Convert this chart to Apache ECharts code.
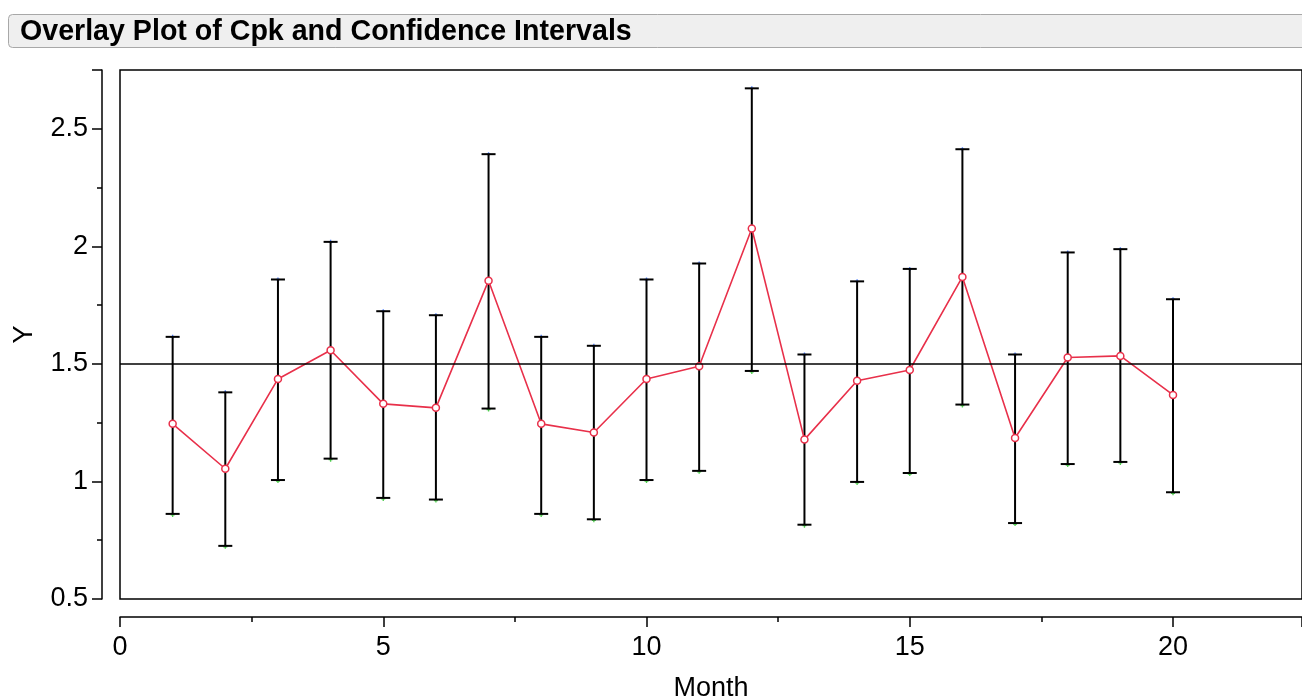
<!DOCTYPE html>
<html>
<head>
<meta charset="utf-8">
<script src="https://cdn.jsdelivr.net/npm/echarts@6/dist/echarts.min.js"></script>
<style>
html,body{margin:0;padding:0;background:#fff;overflow:hidden;}
#chart{width:1302px;height:699px;}
</style>
</head>
<body>
<div id="chart"></div>
<script>
var months = [1,2,3,4,5,6,7,8,9,10,11,12,13,14,15,16,17,18,19,20];
var cpk    = [1.245,1.054,1.436,1.558,1.330,1.313,1.854,1.245,1.208,1.436,1.490,2.076,1.178,1.428,1.474,1.870,1.185,1.527,1.534,1.368];
var upper  = [1.615,1.379,1.859,2.019,1.724,1.707,2.392,1.615,1.577,1.859,1.927,2.672,1.540,1.851,1.904,2.413,1.540,1.974,1.988,1.775];
var lower  = [0.862,0.726,1.006,1.097,0.930,0.923,1.310,0.862,0.839,1.006,1.045,1.470,0.816,0.998,1.036,1.327,0.823,1.074,1.083,0.954];
var refValue = 1.5;
var yTicks = [0.5,1,1.5,2,2.5];
var xTicks = [0,5,10,15,20];

var chart = echarts.init(document.getElementById('chart'));
var FONT = 'Liberation Sans, Arial, sans-serif';

var errData = months.map(function(m,i){ return [m, lower[i], upper[i]]; });
var cpkData = months.map(function(m,i){ return [m, cpk[i]]; });
var upData = months.map(function(m,i){ return [m, upper[i]]; });
var loData = months.map(function(m,i){ return [m, lower[i]]; });

var plus = 'path://M1,0H2V1H3V2H2V3H1V2H0V1H1Z';

var option = {
  animation: false,
  backgroundColor: '#ffffff',
  graphic: [{
    type: 'rect', z: 0,
    shape: {x: 8.5, y: 14.5, width: 1320, height: 33, r: 4},
    style: {fill: '#efefef', stroke: '#a8a8a8', lineWidth: 1}
  }],
  title: {
    text: 'Overlay Plot of Cpk and Confidence Intervals',
    left: 20, top: 18, padding: 0, z: 10,
    textStyle: {fontFamily: FONT, fontSize: 28.6, fontWeight: 'bold', color: '#000', lineHeight: 28}
  },
  grid: {
    left: 120, top: 70, width: 1182, height: 529,
    outerBoundsMode: 'none', containLabel: false,
    show: true, borderColor: '#000', borderWidth: 1.5, backgroundColor: 'transparent'
  },
  xAxis: {
    type: 'value', min: 0, max: 22.45, interval: 5, offset: 18,
    name: 'Month', nameLocation: 'middle', nameGap: 58,
    nameTextStyle: {fontFamily: FONT, fontSize: 27, color: '#000'},
    axisLine: {show: true, onZero: false, lineStyle: {color: '#000', width: 1.5}},
    axisTick: {show: true, length: 10, lineStyle: {color: '#000', width: 1.5}},
    minorTick: {show: true, splitNumber: 2, length: 5, lineStyle: {color: '#000', width: 1.5}},
    axisLabel: {fontFamily: FONT, fontSize: 27, color: '#000', margin: 17, showMaxLabel: false,
      formatter: function(v){ return xTicks.indexOf(v) >= 0 ? String(v) : ''; }},
    splitLine: {show: false}, minorSplitLine: {show: false}
  },
  yAxis: {
    type: 'value', min: 0.5, max: 2.75, interval: 0.5, offset: 18,
    name: 'Y', nameLocation: 'middle', nameGap: 64, nameRotate: 90,
    nameTextStyle: {fontFamily: FONT, fontSize: 27, color: '#000'},
    axisLine: {show: true, onZero: false, lineStyle: {color: '#000', width: 1.5}},
    axisTick: {show: true, length: 10, lineStyle: {color: '#000', width: 1.5}},
    minorTick: {show: true, splitNumber: 2, length: 5, lineStyle: {color: '#000', width: 1.5}},
    axisLabel: {fontFamily: FONT, fontSize: 27, color: '#000', margin: 14, showMaxLabel: false,
      formatter: function(v){ return yTicks.indexOf(v) >= 0 ? String(v) : ''; }},
    splitLine: {show: false}, minorSplitLine: {show: false}
  },
  series: [
    {
      type: 'scatter', data: upData, symbol: plus, symbolSize: 4, z: 1,
      itemStyle: {color: '#1f5fff'}, silent: true
    },
    {
      type: 'scatter', data: loData, symbol: plus, symbolSize: 4, z: 1, symbolOffset: [0, 1],
      itemStyle: {color: '#22c022'}, silent: true
    },
    {
      type: 'custom', z: 2, silent: true,
      data: errData,
      encode: {x: 0, y: [1, 2]},
      renderItem: function(params, api){
        var x = api.value(0);
        var lo = api.coord([x, api.value(1)]);
        var hi = api.coord([x, api.value(2)]);
        var hw = 7;
        var st = {stroke: '#000', lineWidth: 2};
        return {type: 'group', children: [
          {type: 'line', shape: {x1: lo[0], y1: lo[1], x2: hi[0], y2: hi[1]}, style: st},
          {type: 'line', shape: {x1: lo[0]-hw, y1: lo[1], x2: lo[0]+hw, y2: lo[1]}, style: st},
          {type: 'line', shape: {x1: hi[0]-hw, y1: hi[1], x2: hi[0]+hw, y2: hi[1]}, style: st}
        ]};
      }
    },
    {
      type: 'line', data: cpkData, z: 3,
      symbol: 'circle', symbolSize: 7, showSymbol: true,
      lineStyle: {color: '#e8304a', width: 1.6},
      itemStyle: {color: '#ffffff', borderColor: '#e8304a', borderWidth: 1.5},
      markLine: {
        silent: true, symbol: ['none','none'], label: {show: false},
        lineStyle: {color: '#000', width: 1.5, type: 'solid'},
        data: [{yAxis: refValue}]
      }
    }
  ]
};
chart.setOption(option);
</script>
</body>
</html>
